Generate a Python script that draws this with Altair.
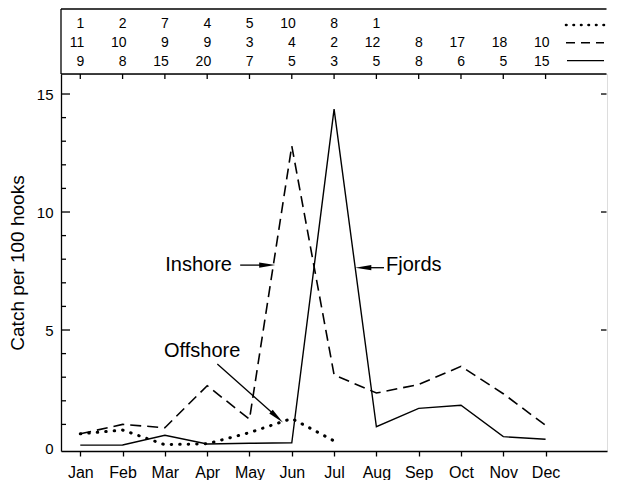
import altair as alt
import pandas as pd

FONT = "Liberation Sans"

# ---- data ----
months = ["Jan", "Feb", "Mar", "Apr", "May", "Jun", "Jul", "Aug", "Sep", "Oct", "Nov", "Dec"]
month_num = list(range(1, 13))

offshore_catch = [0.60, 0.76, 0.14, 0.18, 0.65, 1.25, 0.30]
inshore_catch = [0.60, 1.00, 0.86, 2.64, 1.22, 12.80, 3.10, 2.33, 2.69, 3.46, 2.30, 0.96]
fjords_catch = [0.12, 0.13, 0.54, 0.17, 0.20, 0.22, 14.36, 0.90, 1.68, 1.81, 0.48, 0.37]

offshore_n = [1, 2, 7, 4, 5, 10, 8, 1]
inshore_n = [11, 10, 9, 9, 3, 4, 2, 12, 8, 17, 18, 10]
fjords_n = [9, 8, 15, 20, 7, 5, 3, 5, 8, 6, 5, 15]

y_label_values = [0, 5, 10, 15]
y_minor_ticks = [1, 2, 3, 4, 6, 7, 8, 9, 11, 12, 13, 14]
y_major_ticks = [5, 10, 15]

# annotation labels (placement in data units)
ann_labels = ["Inshore", "Fjords", "Offshore"]
ann_x = [4.586, 8.227, 2.98]
ann_y = [7.51, 7.48, 3.85]
arrow_x0 = [4.78, 8.18, 4.24]
arrow_y0 = [7.75, 7.64, 3.56]
arrow_x1 = [5.42, 7.69, 5.65]
arrow_y1 = [7.75, 7.64, 1.31]
arrow_angle = [0, 180, 42]

# ---- frames ----
def series_df(vals):
    return pd.DataFrame({"m": month_num[: len(vals)], "v": vals})

off_df = series_df(offshore_catch)
ins_df = series_df(inshore_catch)
fjo_df = series_df(fjords_catch)

def count_df(vals):
    return pd.DataFrame({"m": month_num[: len(vals)], "n": vals})

one = pd.DataFrame({"k": [0]})

W, H = 546, 377
BOX = 65
xs = alt.Scale(domain=[0.544, 13.452], nice=False, zero=False)
ys = alt.Scale(domain=[-0.127, 15.848], nice=False, zero=False)

label_expr = "[" + ",".join(f"'{m}'" for m in months) + "][datum.value - 1]"
x_axis = alt.Axis(values=month_num, labelExpr=label_expr, title=None, grid=False,
                  tickSize=5, labelPadding=8, labelFontSize=16, labelFont=FONT,
                  domainColor="black", tickColor="black", labelColor="black",
                  domainWidth=1.3, tickWidth=1.3, labelFlush=False)
y_axis = alt.Axis(values=y_label_values, title="Catch per 100 hooks", ticks=False, tickSize=0,
                  labelPadding=8, grid=False, labelFontSize=15, labelFont=FONT,
                  labelColor="black", domainColor="black", domainWidth=1.3,
                  titleFont=FONT, titleFontSize=19, titleFontWeight="normal",
                  titleColor="black", titlePadding=9)

def X(f):
    return alt.X(f"{f}:Q", scale=xs, axis=x_axis)

def Y(f):
    return alt.Y(f"{f}:Q", scale=ys, axis=y_axis)

layers = []

# series lines
layers.append(alt.Chart(fjo_df).mark_line(color="black", strokeWidth=1.4).encode(x=X("m"), y=Y("v")))
layers.append(alt.Chart(ins_df).mark_line(color="black", strokeWidth=1.6, strokeDash=[11, 6]).encode(x=X("m"), y=Y("v")))
layers.append(alt.Chart(off_df).mark_line(color="black", strokeWidth=3, strokeDash=[0.5, 8],
                                          strokeCap="round").encode(x=X("m"), y=Y("v")))

# inward ticks: left (minor/major), right, top
tick_minor = pd.DataFrame({"t": y_minor_ticks})
tick_major = pd.DataFrame({"t": y_major_ticks})
layers.append(alt.Chart(tick_minor).mark_rule(color="black", strokeWidth=1.3).encode(
    y=Y("t"), x=alt.value(0), x2=alt.value(5)))
layers.append(alt.Chart(tick_major).mark_rule(color="black", strokeWidth=1.3).encode(
    y=Y("t"), x=alt.value(0), x2=alt.value(9)))
layers.append(alt.Chart(tick_major).mark_rule(color="black", strokeWidth=1.3).encode(
    y=Y("t"), x=alt.value(W - 6), x2=alt.value(W - 0.5)))
layers.append(alt.Chart(pd.DataFrame({"m": month_num})).mark_rule(color="black", strokeWidth=1.3).encode(
    x=X("m"), y=alt.value(0), y2=alt.value(5)))

# table box lines
layers.append(alt.Chart(one).mark_rule(color="black", strokeWidth=1.3).encode(
    x=alt.value(0), x2=alt.value(W - 0.5), y=alt.value(0)))
layers.append(alt.Chart(one).mark_rule(color="black", strokeWidth=1.3).encode(
    x=alt.value(0), x2=alt.value(W - 0.5), y=alt.value(-BOX)))
layers.append(alt.Chart(one).mark_rule(color="black", strokeWidth=1.3).encode(
    x=alt.value(0), y=alt.value(-BOX), y2=alt.value(0)))

# table numbers
for vals, ypix in [(offshore_n, -49.7), (inshore_n, -31.3), (fjords_n, -12.5)]:
    layers.append(alt.Chart(count_df(vals)).mark_text(font=FONT, fontSize=14, align="right",
                                                      baseline="middle", dx=4, color="black").encode(
        x=X("m"), y=alt.value(ypix), text="n:Q"))

# table legend symbols
layers.append(alt.Chart(one).mark_rule(color="black", strokeWidth=2.6, strokeDash=[0.5, 7],
                                       strokeCap="round").encode(
    x=alt.value(505), x2=alt.value(543), y=alt.value(-49)))
layers.append(alt.Chart(one).mark_rule(color="black", strokeWidth=1.5, strokeDash=[9, 6]).encode(
    x=alt.value(505), x2=alt.value(543), y=alt.value(-31.3)))
layers.append(alt.Chart(one).mark_rule(color="black", strokeWidth=1.3).encode(
    x=alt.value(506), x2=alt.value(543), y=alt.value(-13.3)))

# annotations
ann = pd.DataFrame({"label": ann_labels, "x": ann_x, "y": ann_y,
                    "x0": arrow_x0, "y0": arrow_y0, "x1": arrow_x1, "y1": arrow_y1,
                    "a": arrow_angle})
aligns = {"Inshore": "right", "Fjords": "left", "Offshore": "left"}
for lab in ann_labels:
    layers.append(alt.Chart(ann).transform_filter(alt.datum.label == lab).mark_text(
        font=FONT, fontSize=20, align=aligns[lab], baseline="alphabetic", color="black").encode(
        x=X("x"), y=Y("y"), text="label:N"))
layers.append(alt.Chart(ann).mark_rule(color="black", strokeWidth=1.3).encode(
    x=X("x0"), y=Y("y0"), x2="x1:Q", y2="y1:Q"))
layers.append(alt.Chart(ann).mark_point(shape="M-1,-0.32L1,0L-1,0.32Z", filled=True, color="black",
                                        size=260, opacity=1, strokeWidth=0).encode(
    x=X("x1"), y=Y("y1"), angle=alt.Angle("a:Q", scale=None)))

chart = alt.layer(*layers).properties(
    width=W, height=H,
    padding={"left": 0, "right": 0, "top": 0, "bottom": 0},
).configure_view(stroke=None).configure(background="white")

chart.save("out.html", embed_options={"renderer": "svg", "actions": False})
